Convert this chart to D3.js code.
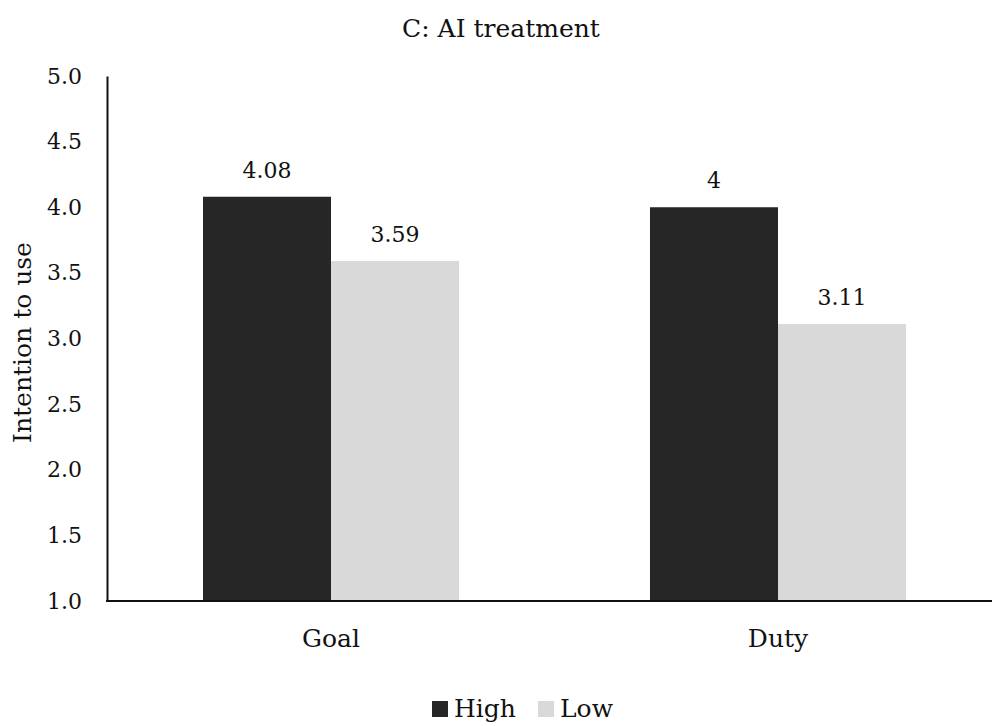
<!DOCTYPE html>
<html>
<head>
<meta charset="utf-8">
<script src="https://cdn.jsdelivr.net/npm/d3@7"></script>
<style>
  html, body { margin: 0; padding: 0; background: #fff; }
  svg text { font-family: "DejaVu Serif", serif; fill: #111; }
</style>
</head>
<body>
<svg id="chart" width="992" height="726"></svg>
<script>
// Intention to use, by framing condition and level
const categories = ["Goal", "Duty"];
const seriesNames = ["High", "Low"];
const highValues = [4.08, 4.00];
const lowValues = [3.59, 3.11];
const valueLabels = [["4.08", "3.59"], ["4", "3.11"]];
const yTicks = [1.0, 1.5, 2.0, 2.5, 3.0, 3.5, 4.0, 4.5, 5.0];
const colors = ["#262626", "#d9d9d9"];

const svg = d3.select("#chart");
const plotLeft = 107, plotRight = 992, plotTop = 76, plotBottom = 601;
const wordSize = 25;   // titles, categories, legend
const numSize = 22;    // tick and value labels

const y = d3.scaleLinear().domain([1, 5]).range([plotBottom, plotTop]);
const x0 = d3.scaleBand().domain(categories).range([107.5, 1001.5]);
const barPair = 256;
const x1 = d3.scaleBand().domain(seriesNames)
  .range([(x0.step() - barPair) / 2, (x0.step() + barPair) / 2]);
const color = d3.scaleOrdinal().domain(seriesNames).range(colors);

const rows = categories.map((c, i) => ({
  cat: c,
  bars: [
    { s: "High", v: highValues[i], label: valueLabels[i][0] },
    { s: "Low", v: lowValues[i], label: valueLabels[i][1] }
  ]
}));

// title
svg.append("text")
  .attr("x", 501).attr("y", 37)
  .attr("text-anchor", "middle")
  .style("font-size", wordSize + "px")
  .text("C: AI treatment");

// bars
const groups = svg.selectAll("g.cat").data(rows).join("g")
  .attr("class", "cat")
  .attr("transform", d => `translate(${x0(d.cat)},0)`);

groups.selectAll("rect").data(d => d.bars).join("rect")
  .attr("x", d => x1(d.s))
  .attr("width", x1.bandwidth())
  .attr("y", d => y(d.v))
  .attr("height", d => y(1) - y(d.v))
  .attr("fill", d => color(d.s));

groups.selectAll("text.val").data(d => d.bars).join("text")
  .attr("class", "val")
  .attr("x", d => x1(d.s) + x1.bandwidth() / 2)
  .attr("y", d => y(d.v) - 19)
  .attr("text-anchor", "middle")
  .style("font-size", numSize + "px")
  .text(d => d.label);

// y axis
const yAxis = d3.axisLeft(y).tickValues(yTicks).tickFormat(d3.format(".1f")).tickSize(0).tickPadding(25);
const gy = svg.append("g").attr("transform", `translate(${plotLeft},0)`).call(yAxis);
gy.select(".domain").attr("stroke", "#111").attr("stroke-width", 2);
gy.selectAll("text").style("font-size", numSize + "px").attr("fill", "#111");

// x axis
const xAxis = d3.axisBottom(x0).tickSize(0).tickPadding(28);
const gx = svg.append("g").attr("transform", `translate(0,${plotBottom})`).call(xAxis);
gx.select(".domain").attr("d", `M${plotLeft - 1},0H${plotRight}`).attr("stroke", "#111").attr("stroke-width", 2);
gx.selectAll("text").style("font-size", wordSize + "px").attr("fill", "#111");

// y axis title
svg.append("text")
  .attr("transform", `translate(31,${(plotTop + plotBottom) / 2 + 4}) rotate(-90)`)
  .attr("text-anchor", "middle")
  .style("font-size", wordSize + "px")
  .text("Intention to use");

// legend
const legend = svg.append("g").attr("transform", "translate(432,717)");
const legendX = [0, 106];
seriesNames.forEach((s, i) => {
  const g = legend.append("g").attr("transform", `translate(${legendX[i]},0)`);
  g.append("rect").attr("x", 0).attr("y", -16).attr("width", 16).attr("height", 16).attr("fill", color(s));
  g.append("text").attr("x", 22).attr("y", 0).style("font-size", wordSize + "px").text(s);
});
</script>
</body>
</html>
